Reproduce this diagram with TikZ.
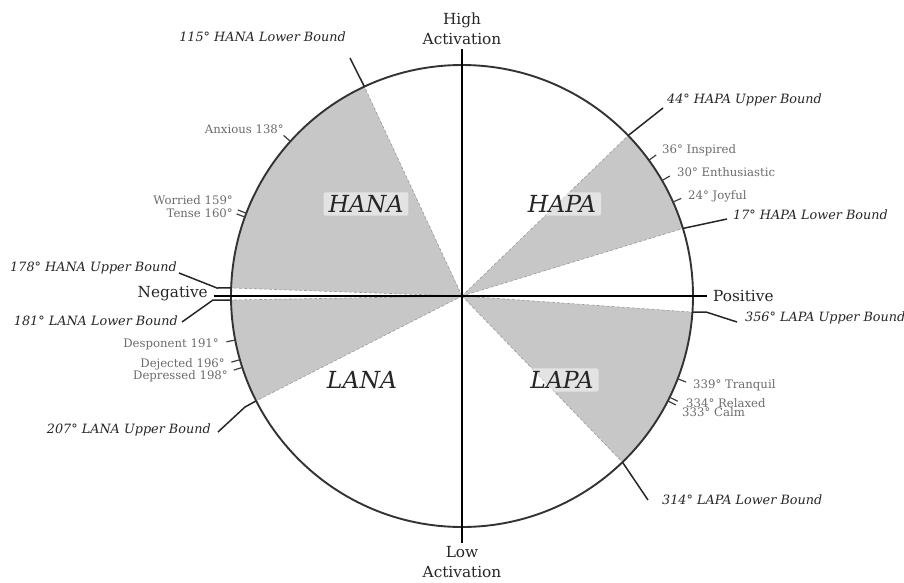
\documentclass[tikz,border=0pt]{standalone}
\usepackage{fontspec}
\setmainfont{DejaVu Serif}
\begin{document}
\begin{tikzpicture}[x=1pt,y=1pt,
  circ/.style={draw=black!80, line width=1.9pt},
  axisline/.style={draw=black, line width=1.3pt},
  wedge/.style={fill=black!22},
  divider/.style={draw=black!40, densely dashed, line width=0.6pt},
  leader/.style={draw=black!85, line width=1.5pt},
  emotick/.style={draw=black!75, line width=1.2pt},
  boundlbl/.style={font=\itshape\fontsize{12.8}{15}\selectfont, text=black!85, inner sep=0pt},
  emolbl/.style={font=\fontsize{11.7}{13}\selectfont, text=black!58, inner sep=0pt},
  axislbl/.style={font=\fontsize{15.3}{20.5}\selectfont, text=black!85, inner sep=0pt, align=center},
  quadlbl/.style={font=\itshape\fontsize{23.5}{26}\selectfont, text=black!85, fill=white, fill opacity=0.5, text opacity=1, rounded corners=2pt, inner xsep=5pt, inner ysep=3pt}
]
\useasboundingbox (-462,-286) rectangle (442,296);
\def\R{231}
\coordinate (O) at (0,0);
% wedges
\fill[wedge] (O) -- (17:\R) arc[start angle=17,end angle=44,radius=\R] -- cycle;
\fill[wedge] (O) -- (115:\R) arc[start angle=115,end angle=178,radius=\R] -- cycle;
\fill[wedge] (O) -- (181:\R) arc[start angle=181,end angle=207,radius=\R] -- cycle;
\fill[wedge] (O) -- (314:\R) arc[start angle=314,end angle=356,radius=\R] -- cycle;
\foreach \a in {17,44,115,178,181,207,314,356} \draw[divider] (O) -- (\a:\R);
% quadrant labels
\node[quadlbl] (hana) at (-96,92) {HANA};
\node[quadlbl] (hapa) at (100,92) {HAPA};
\node[quadlbl] (lana) at (-100,-84) {LANA};
\node[quadlbl] (lapa) at (100,-84) {LAPA};
% circle
\draw[circ] (O) circle[radius=\R];
% axes
\coordinate (axL) at (-248,0);
\coordinate (axR) at (245,0);
\coordinate (axT) at (0,247);
\coordinate (axB) at (0,-247);
\draw[axisline] (axL) -- (axR);
\draw[axisline] (axT) -- (axB);
\node[axislbl, anchor=south] (high) at (0,251) {High\\Activation};
\node[axislbl, anchor=north] (low) at (0,-250) {Low\\Activation};
\node[axislbl, anchor=east] (neg) at (-254,2) {Negative};
\node[axislbl, anchor=west] (pos) at (251,0) {Positive};
% bound leaders
\foreach \a in {17,44,115,178,181,207,314,356} \coordinate (c\a) at (\a:\R);
\coordinate (k115) at (-112,238);
\coordinate (k44) at (201,188);
\coordinate (k17) at (265,77);
\coordinate (j178) at (-245,8);
\coordinate (k178) at (-283,23);
\coordinate (j181) at (-249,-4);
\coordinate (k181) at (-280,-26);
\coordinate (j207) at (-217,-111);
\coordinate (k207) at (-244,-136);
\coordinate (k314) at (186,-204);
\coordinate (j356) at (244,-16);
\coordinate (k356) at (275,-26);
\draw[leader] (c115) -- (k115);
\draw[leader] (c44) -- (k44);
\draw[leader] (c17) -- (k17);
\draw[leader] (c178) -- (j178) -- (k178);
\draw[leader] (c181) -- (j181) -- (k181);
\draw[leader] (c207) -- (j207) -- (k207);
\draw[leader] (c314) -- (k314);
\draw[leader] (c356) -- (j356) -- (k356);
\node[boundlbl, anchor=east] (l115) at (-116,259) {115° HANA Lower Bound};
\node[boundlbl, anchor=west] (l44) at (205,196) {44° HAPA Upper Bound};
\node[boundlbl, anchor=west] (l17) at (271,81) {17° HAPA Lower Bound};
\node[boundlbl, anchor=east] (l178) at (-285,28) {178° HANA Upper Bound};
\node[boundlbl, anchor=east] (l181) at (-284,-25) {181° LANA Lower Bound};
\node[boundlbl, anchor=east] (l207) at (-251,-134) {207° LANA Upper Bound};
\node[boundlbl, anchor=west] (l314) at (200,-204) {314° LAPA Lower Bound};
\node[boundlbl, anchor=west] (l356) at (283,-22) {356° LAPA Upper Bound};
% emotion ticks
\foreach \a in {36,30,24,138,159,160,191,196,198,339,334,333}
  \draw[emotick] (\a:\R) -- (\a:240);
\node[emolbl, anchor=west] (e36) at (200,146) {36° Inspired};
\node[emolbl, anchor=west] (e30) at (215,124) {30° Enthusiastic};
\node[emolbl, anchor=west] (e24) at (226,100) {24° Joyful};
\node[emolbl, anchor=east] (e138) at (-178,167) {Anxious 138°};
\node[emolbl, anchor=east] (e159) at (-229,96) {Worried 159°};
\node[emolbl, anchor=east] (e160) at (-229,83) {Tense 160°};
\node[emolbl, anchor=east] (e191) at (-243,-48) {Desponent 191°};
\node[emolbl, anchor=east] (e196) at (-237,-68) {Dejected 196°};
\node[emolbl, anchor=east] (e198) at (-234,-80) {Depressed 198°};
\node[emolbl, anchor=west] (e339) at (231,-89) {339° Tranquil};
\node[emolbl, anchor=west] (e334) at (224,-107) {334° Relaxed};
\node[emolbl, anchor=west] (e333) at (220,-116) {333° Calm};
\end{tikzpicture}
\end{document}
